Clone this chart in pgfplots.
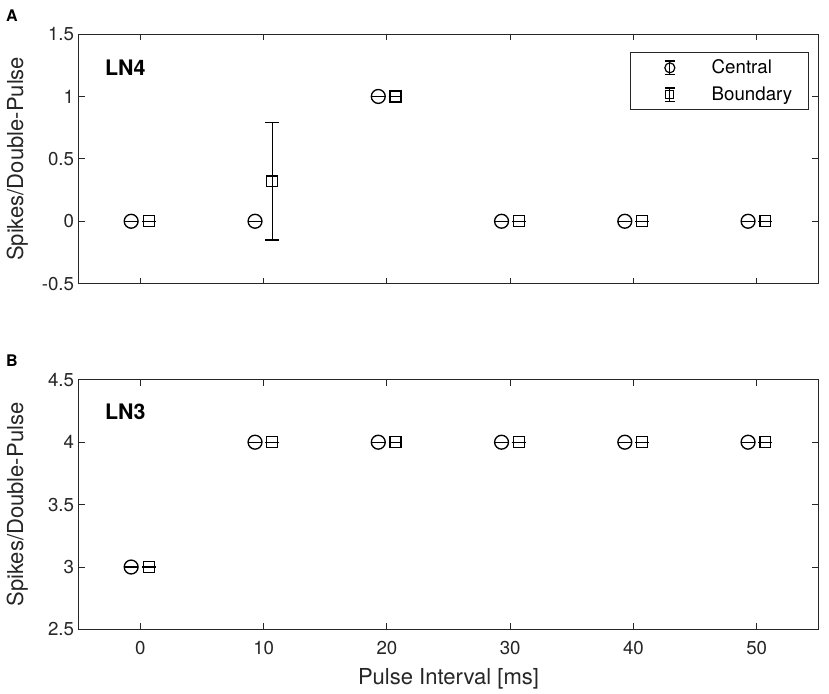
\documentclass[border=0pt]{standalone}
\usepackage{pgfplots}
\pgfplotsset{compat=1.18}
\usepackage{fontspec}
\setmainfont{TeX Gyre Heros}
\definecolor{axgray}{rgb}{0.15,0.15,0.15}

\pgfplotsset{
  panel/.style={
    scale only axis,
    width=554pt, height=187pt,
    xmin=-5, xmax=55,
    xtick={0,10,20,30,40,50},
    tick align=inside,
    ticks=both,
    major tick length=4.5pt,
    axis line style={axgray, line width=0.75pt},
    every tick/.style={axgray, line width=0.75pt},
    tick label style={font=\fontsize{14}{16}\selectfont, axgray},
    label style={font=\fontsize{16.5}{18}\selectfont, axgray},
    /pgf/number format/assume math mode=true,
    ylabel={Spikes/Double-Pulse},
    ylabel style={at={(rel axis cs:0,0.5)}, anchor=center, rotate=0, inner sep=0pt, yshift=46pt},
    clip=false,
  },
  central/.style={
    black, only marks, mark=o, mark size=5.2pt,
    mark options={line width=1pt},
    error bars/y dir=both, error bars/y explicit,
    error bars/error bar style={line width=1pt},
    error bars/error mark options={rotate=90, mark size=5.2pt, line width=1pt},
  },
  boundary/.style={
    black, only marks, mark=square, mark size=4.1pt,
    mark options={line width=1pt},
    error bars/y dir=both, error bars/y explicit,
    error bars/error bar style={line width=1pt},
    error bars/error mark options={rotate=90, mark size=5.2pt, line width=1pt},
  },
}

\begin{document}
\begin{tikzpicture}
\begin{axis}[
  panel, name=top,
  at={(0,0)}, anchor=south west,
  ymin=-0.5, ymax=1.5,
  ytick={-0.5,0,0.5,1,1.5},
  yticklabels={-0.5,0,0.5,1,1.5},
  xticklabels={},
  legend style={at={(rel axis cs:0.987,0.928)}, anchor=north east,
    draw=axgray, line width=0.75pt, font=\fontsize{14}{16}\selectfont,
    inner xsep=10pt, inner ysep=3.5pt, row sep=4.3pt},
  legend cell align=left,
]
\addplot+[central,
  legend image code/.code={
    \path (-19pt,0) (29pt,0);
    \draw[black, line width=0.9pt] (0pt,-5.1pt)--(0pt,5.1pt)
      (-3.75pt,-5.1pt)--(3.75pt,-5.1pt) (-3.75pt,5.1pt)--(3.75pt,5.1pt);
    \draw[black, line width=0.9pt] (0pt,0) circle (3.75pt);}]
  coordinates {
  (-0.75,0) +- (0,0)
  (9.3,0) +- (0,0)
  (19.3,1) +- (0,0)
  (29.3,0) +- (0,0)
  (39.3,0) +- (0,0)
  (49.3,0) +- (0,0)
};
\addlegendentry{Central}
\addplot+[boundary,
  legend image code/.code={
    \path (-19pt,0) (29pt,0);
    \draw[black, line width=0.9pt] (0pt,-5.1pt)--(0pt,5.1pt)
      (-3.75pt,-5.1pt)--(3.75pt,-5.1pt) (-3.75pt,5.1pt)--(3.75pt,5.1pt);
    \draw[black, line width=0.9pt] (-3pt,-3pt) rectangle (3pt,3pt);}]
  coordinates {
  (0.7,0) +- (0,0)
  (10.7,0.32) +- (0,0.47)
  (20.7,1) +- (0,0)
  (30.7,0) +- (0,0)
  (40.7,0) +- (0,0)
  (50.7,0) +- (0,0)
};
\addlegendentry{Boundary}
\node[anchor=west, font=\fontsize{16}{18}\selectfont\bfseries] at (axis cs:-3.25,1.23) {LN4};
\node[inner sep=0pt, font=\fontsize{12}{14}\selectfont\bfseries] at ([xshift=-50pt, yshift=14pt]rel axis cs:0,1) {A};
% page margins as in the reference
\path ([xshift=8pt, yshift=25.5pt]rel axis cs:1,1) ([xshift=-59pt]rel axis cs:0,1);
\end{axis}

\begin{axis}[
  panel, name=bot,
  at={(0,-259pt)}, anchor=south west,
  ymin=2.5, ymax=4.5,
  ytick={2.5,3,3.5,4,4.5},
  yticklabels={2.5,3,3.5,4,4.5},
  xticklabel style={yshift=-5pt},
  xlabel={Pulse Interval [ms]},
  xlabel style={at={(rel axis cs:0.5,0)}, anchor=center, yshift=-37pt},
]
\addplot+[central] coordinates {
  (-0.75,3) +- (0,0)
  (9.3,4) +- (0,0)
  (19.3,4) +- (0,0)
  (29.3,4) +- (0,0)
  (39.3,4) +- (0,0)
  (49.3,4) +- (0,0)
};
\addplot+[boundary] coordinates {
  (0.7,3) +- (0,0)
  (10.7,4) +- (0,0)
  (20.7,4) +- (0,0)
  (30.7,4) +- (0,0)
  (40.7,4) +- (0,0)
  (50.7,4) +- (0,0)
};
\node[anchor=west, font=\fontsize{16}{18}\selectfont\bfseries] at (axis cs:-3.25,4.24) {LN3};
\node[inner sep=0pt, font=\fontsize{12}{14}\selectfont\bfseries] at ([xshift=-50pt, yshift=14pt]rel axis cs:0,1) {B};
\path ([xshift=8pt, yshift=-47pt]rel axis cs:1,0) ([xshift=-59pt, yshift=-47pt]rel axis cs:0,0);
\end{axis}
\end{tikzpicture}
\end{document}
